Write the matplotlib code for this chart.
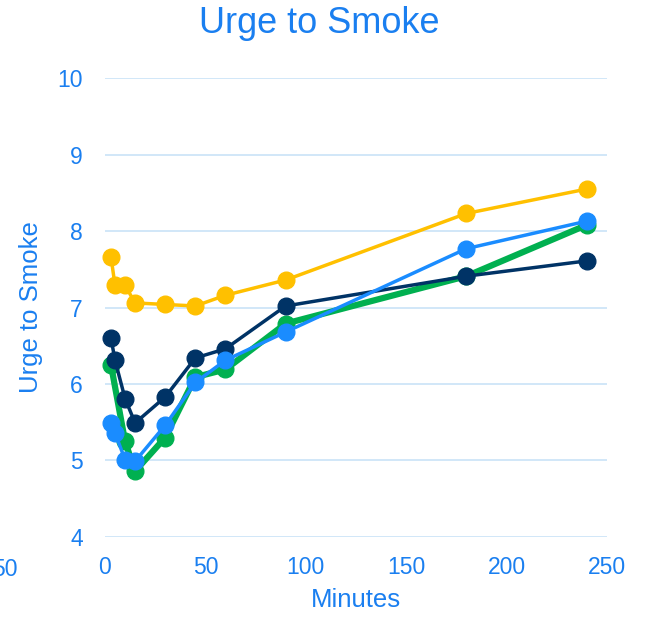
import matplotlib.pyplot as plt

# time points (minutes)
t_all = [3, 5, 10, 15, 30, 45, 60, 90, 180, 240]
t_green = [3, 10, 15, 30, 45, 60, 90, 180, 240]

yellow = [7.66, 7.29, 7.29, 7.06, 7.04, 7.02, 7.16, 7.36, 8.23, 8.55]
navy = [6.60, 6.31, 5.81, 5.49, 5.83, 6.34, 6.46, 7.02, 7.41, 7.61]
green = [6.25, 5.25, 4.86, 5.30, 6.09, 6.19, 6.79, 7.41, 8.08]
blue = [5.49, 5.36, 5.01, 4.99, 5.46, 6.02, 6.31, 6.68, 7.77, 8.13]

xticks = [0, 50, 100, 150, 200, 250]
yticks = [4, 5, 6, 7, 8, 9, 10]

txt = '#1a7ff0'
plt.rcParams['font.family'] = ['Liberation Sans', 'DejaVu Sans']

fig = plt.figure(figsize=(6.46, 6.20), dpi=100)
ax = fig.add_axes([0.1625, 0.134, 0.777, 0.740])

ms = 12
ax.plot(t_all, yellow, '-o', color='#ffc000', lw=2.5, ms=ms, zorder=3)
ax.plot(t_green, green, '-o', color='#00b050', lw=4.5, ms=ms, zorder=4)
ax.plot(t_all, navy, '-o', color='#003366', lw=2.5, ms=ms, zorder=5)
ax.plot(t_all, blue, '-o', color='#1a8cff', lw=2.5, ms=ms, zorder=6)

ax.set_xlim(0, 250)
ax.set_ylim(4, 10)
ax.set_xticks(xticks)
ax.set_yticks(yticks)
ax.grid(axis='y', color='#c9e3f7', lw=1.2)
ax.set_axisbelow(True)
for s in ax.spines.values():
    s.set_visible(False)
ax.tick_params(length=0, labelsize=16.5, labelcolor=txt)
ax.tick_params(axis='y', pad=16)
ax.tick_params(axis='x', pad=14)
for ln in ax.lines:
    ln.set_clip_on(False)

fig.text(0.494, 0.962, 'Urge to Smoke', fontsize=26, color=txt,
         ha='center', va='center')
ax.set_xlabel('Minutes', fontsize=18.5, color=txt, labelpad=6)
ax.set_ylabel('Urge to Smoke', fontsize=18.5, color=txt, labelpad=10)

# clipped "-50" tick label at the left edge
fig.text(-0.012, 0.081, '50', fontsize=16.5, color=txt, ha='left', va='center')

fig.savefig('out.png', dpi=100)
